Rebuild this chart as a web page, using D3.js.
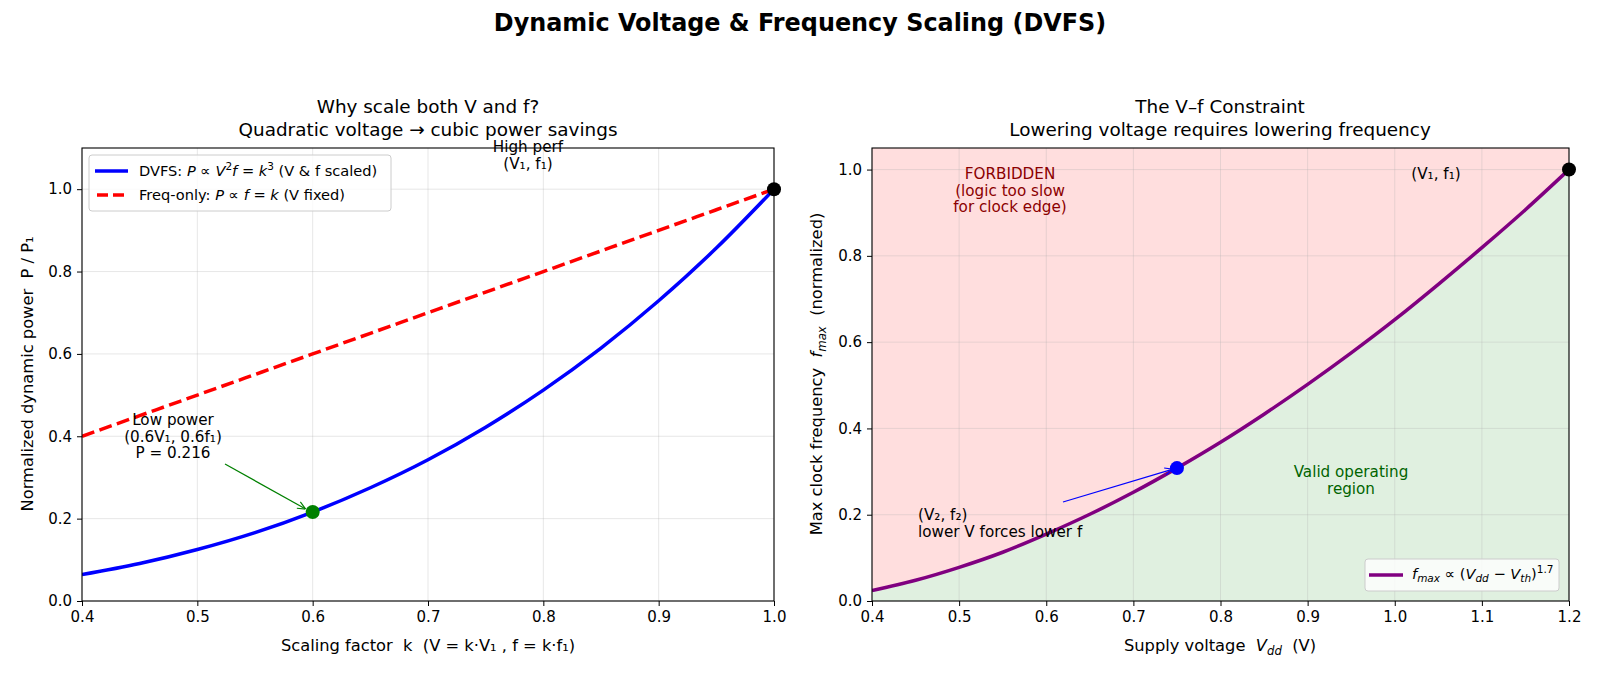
<!DOCTYPE html>
<meta charset="utf-8">
<script src="https://cdn.jsdelivr.net/npm/d3@7"></script>
<style>
  body { margin: 0; background: #fff; }
  svg { font-family: "DejaVu Sans", sans-serif; }
  svg text { white-space: pre; }
</style>
<div id="chart"></div>
<script>
// ---- data ----
var kVals   = [0.40, 0.45, 0.50, 0.55, 0.60, 0.65, 0.70, 0.75, 0.80, 0.85, 0.90, 0.95, 1.00];
var pDvfs   = [0.064, 0.091, 0.125, 0.166, 0.216, 0.275, 0.343, 0.422, 0.512, 0.614, 0.729, 0.857, 1.000];
var pFreq   = [0.40, 0.45, 0.50, 0.55, 0.60, 0.65, 0.70, 0.75, 0.80, 0.85, 0.90, 0.95, 1.00];

var vdd     = [0.40, 0.45, 0.50, 0.55, 0.60, 0.65, 0.70, 0.75, 0.80, 0.85, 0.90, 0.95, 1.00, 1.05, 1.10, 1.15, 1.20];
var fMax    = [0.024, 0.048, 0.078, 0.113, 0.155, 0.201, 0.252, 0.308, 0.368, 0.433, 0.502, 0.575, 0.652, 0.734, 0.819, 0.907, 1.000];

var leftXTicks  = [0.4, 0.5, 0.6, 0.7, 0.8, 0.9, 1.0];
var leftYTicks  = [0.0, 0.2, 0.4, 0.6, 0.8, 1.0];
var rightXTicks = [0.4, 0.5, 0.6, 0.7, 0.8, 0.9, 1.0, 1.1, 1.2];
var rightYTicks = [0.0, 0.2, 0.4, 0.6, 0.8, 1.0];

var lowPoint  = {k: 0.6, p: 0.216};
var highPoint = {k: 1.0, p: 1.0};
var v2Point   = {v: 0.75, f: 0.308};
var v1Point   = {v: 1.2, f: 1.0};

var W = 1600, H = 677;
var TICK = 15, LABEL = 16.3, TITLE = 18.4, ANNO = 15.2, LEG = 14.6;

var svg = d3.select("#chart").append("svg")
    .attr("width", W).attr("height", H);

// arrow markers
var defs = svg.append("defs");
function arrowMarker(id, color) {
  defs.append("marker")
    .attr("id", id).attr("viewBox", "0 0 10 10")
    .attr("refX", 10).attr("refY", 5)
    .attr("markerWidth", 9).attr("markerHeight", 9)
    .attr("markerUnits", "userSpaceOnUse")
    .attr("orient", "auto")
    .append("path").attr("d", "M1,1 L10,5 L1,9")
    .attr("fill", "none").attr("stroke", color).attr("stroke-width", 1.3);
}
arrowMarker("arrGreen", "green");
arrowMarker("arrBlue", "blue");

// rich text: parts = strings or {t, it, sup, sub}
function rich(sel, parts, size) {
  var shift = 0;
  parts.forEach(function(p) {
    if (typeof p === "string") p = {t: p};
    var target = p.sup ? -0.38 * size : (p.sub ? 0.22 * size : 0);
    var ts = sel.append("tspan").text(p.t);
    if (target !== shift) { ts.attr("dy", target - shift); shift = target; }
    if (p.it) ts.attr("font-style", "italic");
    if (p.sup || p.sub) ts.attr("font-size", size * 0.72);
  });
}

// suptitle
svg.append("text")
  .attr("x", W / 2).attr("y", 31)
  .attr("text-anchor", "middle")
  .attr("font-size", 23.9).attr("font-weight", "bold")
  .text("Dynamic Voltage & Frequency Scaling (DVFS)");

function makeAxes(box, xDom, yDom, xTicks, yTicks, clipId) {
  var x = d3.scaleLinear().domain(xDom).range([box.x0, box.x1]);
  var y = d3.scaleLinear().domain(yDom).range([box.y1, box.y0]);
  var g = svg.append("g");
  g.append("clipPath").attr("id", clipId).append("rect")
    .attr("x", box.x0).attr("y", box.y0)
    .attr("width", box.x1 - box.x0).attr("height", box.y1 - box.y0);
  return {x: x, y: y, g: g, box: box, xTicks: xTicks, yTicks: yTicks};
}

function drawGrid(ax) {
  var gg = ax.g.append("g");
  ax.xTicks.forEach(function(t) {
    gg.append("line").attr("x1", ax.x(t)).attr("x2", ax.x(t))
      .attr("y1", ax.box.y0).attr("y2", ax.box.y1)
      .attr("stroke", "#b0b0b0").attr("stroke-opacity", 0.3).attr("stroke-width", 1);
  });
  ax.yTicks.forEach(function(t) {
    gg.append("line").attr("y1", ax.y(t)).attr("y2", ax.y(t))
      .attr("x1", ax.box.x0).attr("x2", ax.box.x1)
      .attr("stroke", "#b0b0b0").attr("stroke-opacity", 0.3).attr("stroke-width", 1);
  });
}

function drawFrame(ax, fmtX) {
  var b = ax.box;
  var xa = ax.g.append("g").attr("transform", "translate(0," + b.y1 + ")")
    .call(d3.axisBottom(ax.x).tickValues(ax.xTicks).tickFormat(fmtX).tickSize(5).tickPadding(5));
  var ya = ax.g.append("g").attr("transform", "translate(" + b.x0 + ",0)")
    .call(d3.axisLeft(ax.y).tickValues(ax.yTicks).tickFormat(d3.format(".1f")).tickSize(5).tickPadding(5));
  [xa, ya].forEach(function(a) {
    a.select(".domain").remove();
    a.selectAll("text").attr("font-size", TICK).attr("fill", "#000")
      .attr("font-family", "DejaVu Sans, sans-serif");
    a.selectAll("line").attr("stroke", "#000").attr("stroke-width", 1);
  });
  ax.g.append("rect").attr("x", b.x0).attr("y", b.y0)
    .attr("width", b.x1 - b.x0).attr("height", b.y1 - b.y0)
    .attr("fill", "none").attr("stroke", "#000").attr("stroke-width", 1.1);
}

// ================= LEFT =================
var L = makeAxes({x0: 82, x1: 774, y0: 148, y1: 601}, [0.4, 1.0], [0, 1.1], leftXTicks, leftYTicks, "clipL");
drawGrid(L);

var lineL = d3.line().curve(d3.curveMonotoneX)
  .x(function(d) { return L.x(d[0]); }).y(function(d) { return L.y(d[1]); });

L.g.append("path").datum(d3.zip(kVals, pFreq))
  .attr("d", lineL).attr("fill", "none")
  .attr("stroke", "red").attr("stroke-width", 3.5)
  .attr("stroke-dasharray", "13,5.5")
  .attr("clip-path", "url(#clipL)");
L.g.append("path").datum(d3.zip(kVals, pDvfs))
  .attr("d", lineL).attr("fill", "none")
  .attr("stroke", "blue").attr("stroke-width", 3.5)
  .attr("clip-path", "url(#clipL)");

drawFrame(L, d3.format(".1f"));

L.g.append("circle").attr("cx", L.x(lowPoint.k)).attr("cy", L.y(lowPoint.p))
  .attr("r", 7).attr("fill", "green");
L.g.append("circle").attr("cx", L.x(highPoint.k)).attr("cy", L.y(highPoint.p))
  .attr("r", 7).attr("fill", "black");

// low power annotation
var lowTxt = L.g.append("text").attr("text-anchor", "middle").attr("font-size", ANNO);
["Low power", "(0.6V\u2081, 0.6f\u2081)", "P = 0.216"].forEach(function(s, i) {
  lowTxt.append("tspan").attr("x", 173).attr("y", 425 + i * 16.5).text(s);
});
L.g.append("line")
  .attr("x1", 225).attr("y1", 464)
  .attr("x2", L.x(lowPoint.k) - 7).attr("y2", L.y(lowPoint.p) - 3)
  .attr("stroke", "green").attr("stroke-width", 1.2)
  .attr("marker-end", "url(#arrGreen)");

var hiTxt = L.g.append("text").attr("text-anchor", "middle").attr("font-size", ANNO);
["High perf", "(V\u2081, f\u2081)"].forEach(function(s, i) {
  hiTxt.append("tspan").attr("x", 528).attr("y", 152 + i * 16.5).text(s);
});

// left legend
var lg = L.g.append("g");
lg.append("rect").attr("x", 89).attr("y", 155).attr("width", 302).attr("height", 56)
  .attr("rx", 3).attr("fill", "#fff").attr("fill-opacity", 0.8)
  .attr("stroke", "#ccc").attr("stroke-width", 1);
lg.append("line").attr("x1", 95).attr("x2", 128).attr("y1", 171).attr("y2", 171)
  .attr("stroke", "blue").attr("stroke-width", 3.5);
lg.append("line").attr("x1", 97).attr("x2", 128).attr("y1", 195).attr("y2", 195)
  .attr("stroke", "red").attr("stroke-width", 3.5).attr("stroke-dasharray", "11,5");
rich(lg.append("text").attr("x", 139).attr("y", 176).attr("font-size", LEG),
  ["DVFS: ", {t: "P", it: 1}, " \u221d ", {t: "V", it: 1}, {t: "2", sup: 1}, {t: "f", it: 1},
   " = ", {t: "k", it: 1}, {t: "3", sup: 1}, " (V & f scaled)"], LEG);
rich(lg.append("text").attr("x", 139).attr("y", 200).attr("font-size", LEG),
  ["Freq-only: ", {t: "P", it: 1}, " \u221d ", {t: "f", it: 1}, " = ", {t: "k", it: 1}, " (V fixed)"], LEG);

// titles & labels
var tl = svg.append("text").attr("text-anchor", "middle").attr("font-size", TITLE);
tl.append("tspan").attr("x", 428).attr("y", 113).text("Why scale both V and f?");
tl.append("tspan").attr("x", 428).attr("y", 136).text("Quadratic voltage \u2192 cubic power savings");

svg.append("text").attr("x", 428).attr("y", 651).attr("text-anchor", "middle")
  .attr("font-size", LABEL)
  .text("Scaling factor  k  (V = k\u00b7V\u2081 , f = k\u00b7f\u2081)");
svg.append("text").attr("transform", "translate(33,374) rotate(-90)")
  .attr("text-anchor", "middle").attr("font-size", LABEL)
  .text("Normalized dynamic power  P / P\u2081");

// ================= RIGHT =================
var R = makeAxes({x0: 872, x1: 1569, y0: 148, y1: 601}, [0.4, 1.2], [0, 1.05], rightXTicks, rightYTicks, "clipR");
var curveR = d3.zip(vdd, fMax);

var areaAbove = d3.area().curve(d3.curveMonotoneX)
  .x(function(d) { return R.x(d[0]); })
  .y0(function() { return R.y(1.05); })
  .y1(function(d) { return R.y(d[1]); });
var areaBelow = d3.area().curve(d3.curveMonotoneX)
  .x(function(d) { return R.x(d[0]); })
  .y0(function() { return R.y(0); })
  .y1(function(d) { return R.y(d[1]); });
R.g.append("path").datum(curveR).attr("d", areaAbove)
  .attr("fill", "red").attr("fill-opacity", 0.13).attr("clip-path", "url(#clipR)");
R.g.append("path").datum(curveR).attr("d", areaBelow)
  .attr("fill", "green").attr("fill-opacity", 0.12).attr("clip-path", "url(#clipR)");

drawGrid(R);

var lineR = d3.line().curve(d3.curveMonotoneX)
  .x(function(d) { return R.x(d[0]); }).y(function(d) { return R.y(d[1]); });
R.g.append("path").datum(curveR).attr("d", lineR)
  .attr("fill", "none").attr("stroke", "purple").attr("stroke-width", 3.5)
  .attr("clip-path", "url(#clipR)");

drawFrame(R, d3.format(".1f"));

R.g.append("circle").attr("cx", R.x(v2Point.v)).attr("cy", R.y(v2Point.f))
  .attr("r", 7).attr("fill", "blue");
R.g.append("circle").attr("cx", R.x(v1Point.v)).attr("cy", R.y(v1Point.f))
  .attr("r", 7).attr("fill", "black");

var fb = R.g.append("text").attr("text-anchor", "middle").attr("font-size", ANNO).attr("fill", "#8b0000");
["FORBIDDEN", "(logic too slow", "for clock edge)"].forEach(function(s, i) {
  fb.append("tspan").attr("x", 1010).attr("y", 179 + i * 16.5).text(s);
});
R.g.append("text").attr("x", 1436).attr("y", 179).attr("text-anchor", "middle")
  .attr("font-size", ANNO).text("(V\u2081, f\u2081)");

var vo = R.g.append("text").attr("text-anchor", "middle").attr("font-size", ANNO).attr("fill", "darkgreen");
["Valid operating", "region"].forEach(function(s, i) {
  vo.append("tspan").attr("x", 1351).attr("y", 477 + i * 16.5).text(s);
});

var v2t = R.g.append("text").attr("font-size", ANNO);
["(V\u2082, f\u2082)", "lower V forces lower f"].forEach(function(s, i) {
  v2t.append("tspan").attr("x", 918).attr("y", 520 + i * 16.5).text(s);
});
R.g.append("line")
  .attr("x1", 1063).attr("y1", 502)
  .attr("x2", R.x(v2Point.v) - 4).attr("y2", R.y(v2Point.f) + 1)
  .attr("stroke", "blue").attr("stroke-width", 1.2)
  .attr("marker-end", "url(#arrBlue)");

// right legend
var rg = R.g.append("g");
rg.append("rect").attr("x", 1365).attr("y", 559).attr("width", 194).attr("height", 32)
  .attr("rx", 3).attr("fill", "#fff").attr("fill-opacity", 0.8)
  .attr("stroke", "#ccc").attr("stroke-width", 1);
rg.append("line").attr("x1", 1369).attr("x2", 1403).attr("y1", 575).attr("y2", 575)
  .attr("stroke", "purple").attr("stroke-width", 3.5);
rich(rg.append("text").attr("x", 1412).attr("y", 579).attr("font-size", LEG),
  [{t: "f", it: 1}, {t: "max", it: 1, sub: 1}, " \u221d (", {t: "V", it: 1}, {t: "dd", it: 1, sub: 1},
   " \u2212 ", {t: "V", it: 1}, {t: "th", it: 1, sub: 1}, ")", {t: "1.7", sup: 1}], LEG);

var tr = svg.append("text").attr("text-anchor", "middle").attr("font-size", TITLE);
tr.append("tspan").attr("x", 1220).attr("y", 113).text("The V\u2013f Constraint");
tr.append("tspan").attr("x", 1220).attr("y", 136).text("Lowering voltage requires lowering frequency");

rich(svg.append("text").attr("x", 1220).attr("y", 651).attr("text-anchor", "middle").attr("font-size", LABEL),
  ["Supply voltage  ", {t: "V", it: 1}, {t: "dd", it: 1, sub: 1}, {t: "  (V)"}], LABEL);
rich(svg.append("text").attr("transform", "translate(822,374) rotate(-90)")
    .attr("text-anchor", "middle").attr("font-size", LABEL),
  ["Max clock frequency  ", {t: "f", it: 1}, {t: "max", it: 1, sub: 1}, {t: "  (normalized)"}], LABEL);
</script>
